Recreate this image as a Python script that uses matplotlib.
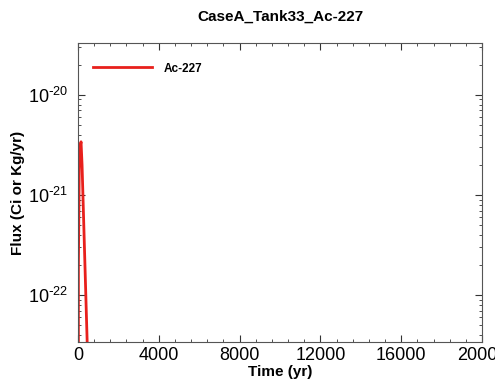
import matplotlib
matplotlib.use("Agg")
import numpy as np
from matplotlib import pyplot as plt
from matplotlib.ticker import MultipleLocator, LogLocator, FuncFormatter

plt.rcParams['font.family'] = ['Liberation Sans', 'DejaVu Sans']

# data
time_yr = [0, 20, 60, 100, 150, 200, 250, 300, 350, 400, 450, 500, 600]
flux_ac227 = [1e-30, 2.0e-22, 1.8e-21, 3.0e-21, 3.4e-21, 2.0e-21, 9.0e-22, 4.0e-22, 1.8e-22, 8.0e-23, 3.6e-23, 1.6e-23, 3e-24]

fig = plt.figure(figsize=(4.95, 3.81), dpi=100)
ax = fig.add_axes([0.1576, 0.1024, 0.8161, 0.7847])

ax.semilogy(time_yr, flux_ac227, color='#e8201c', linewidth=2.0, label='Ac-227')

ax.set_xlim(0, 20000)
ax.set_ylim(3.4e-23, 3.3e-20)
ax.xaxis.set_major_locator(MultipleLocator(4000))
ax.xaxis.set_minor_locator(MultipleLocator(800))
ax.yaxis.set_major_locator(LogLocator(base=10))
ax.yaxis.set_minor_locator(LogLocator(base=10, subs=np.arange(2, 10)))


def exp_fmt(v, pos):
    e = int(round(np.log10(v)))
    return r'$\mathdefault{10^{\text{-}%d}}$' % (-e)


ax.yaxis.set_major_formatter(FuncFormatter(exp_fmt))

ax.tick_params(which='both', direction='in', top=True, right=True, colors='#333333', labelcolor='black')
ax.tick_params(which='major', length=5, labelsize=13)
ax.tick_params(which='minor', length=2.5)
ax.tick_params(axis='y', pad=7)
for s in ax.spines.values():
    s.set_color('#555555')
    s.set_linewidth(0.8)

ax.set_title('CaseA_Tank33_Ac-227', fontsize=11, fontweight='bold', pad=16)
ax.set_xlabel('Time (yr)', fontsize=11, fontweight='bold', labelpad=1)
ax.set_ylabel('Flux (Ci or Kg/yr)', fontsize=11, fontweight='bold', labelpad=2)

leg = ax.legend(loc='upper left', frameon=False, prop={'weight': 'bold', 'size': 8.5},
                handlelength=5.0, handletextpad=1.0, bbox_to_anchor=(0.01, 0.97))

fig.savefig('out.png', dpi=100, facecolor='white')
